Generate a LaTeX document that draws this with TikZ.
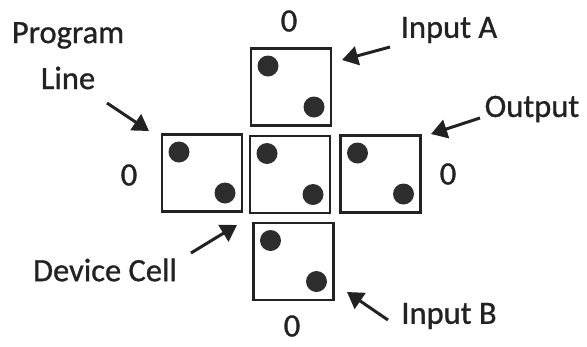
\documentclass[tikz,border=0pt]{standalone}
\usepackage{fontspec}
\setmainfont{Carlito}[FakeBold=0.9]
\usetikzlibrary{arrows.meta}
\definecolor{ink}{HTML}{222222}
\begin{document}
\begin{tikzpicture}[x=1pt,y=-1pt,
  cell/.style={draw=ink, line width=2.6pt, minimum width=80pt, minimum height=77pt, inner sep=0pt},
  dot/.style={circle, fill=ink!95, inner sep=0pt, minimum size=21pt},
  lbl/.style={font=\fontsize{32.5}{46}\selectfont, text=ink, inner sep=0pt},
  ptr/.style={line width=3pt, draw=ink, -{Triangle[length=16pt,width=19pt]}}]
\useasboundingbox (0,0) rectangle (587,346);

% the five device cells
\node[cell] (top)    at (291,87)    {};
\node[cell] (left)   at (202,173)   {};
\node[cell] (centre) at (290,174.5) {};
\node[cell] (right)  at (380.5,174) {};
\node[cell] (bottom) at (293.5,261.5) {};

% two contact dots per cell
\foreach \c in {top,left,centre,right,bottom}{
  \node[dot] (\c-a) at ([shift={(-23,-21)}]\c.center) {};
  \node[dot] (\c-b) at ([shift={(23,20)}]\c.center) {};
}

% boundary values
\node[lbl] (ztop)    at (289,21)  {0};
\node[lbl] (zleft)   at (129,175) {0};
\node[lbl] (zright)  at (448,174) {0};
\node[lbl] (zbottom) at (292,326) {0};

% labels
\node[lbl, align=center, anchor=north] (prog) at (68,22) {Program\\Line};
\node[lbl] (ina)  at (449,30)  {Input A};
\node[lbl] (outp) at (532,109) {Output};
\node[lbl] (dev)  at (105,270) {Device Cell};
\node[lbl] (inb)  at (449,316) {Input B};

% pointer ends
\coordinate (prog-t) at (107,103); \coordinate (prog-h) at (149,131);
\coordinate (ina-t)  at (390,47);  \coordinate (ina-h)  at (342,60);
\coordinate (outp-t) at (480,118); \coordinate (outp-h) at (431,134);
\coordinate (dev-t)  at (191,253); \coordinate (dev-h)  at (237,225);
\coordinate (inb-t)  at (388,320); \coordinate (inb-h)  at (347,292);

\foreach \p in {prog,ina,outp,dev,inb}
  \draw[ptr] (\p-t) -- (\p-h);
\end{tikzpicture}
\end{document}
